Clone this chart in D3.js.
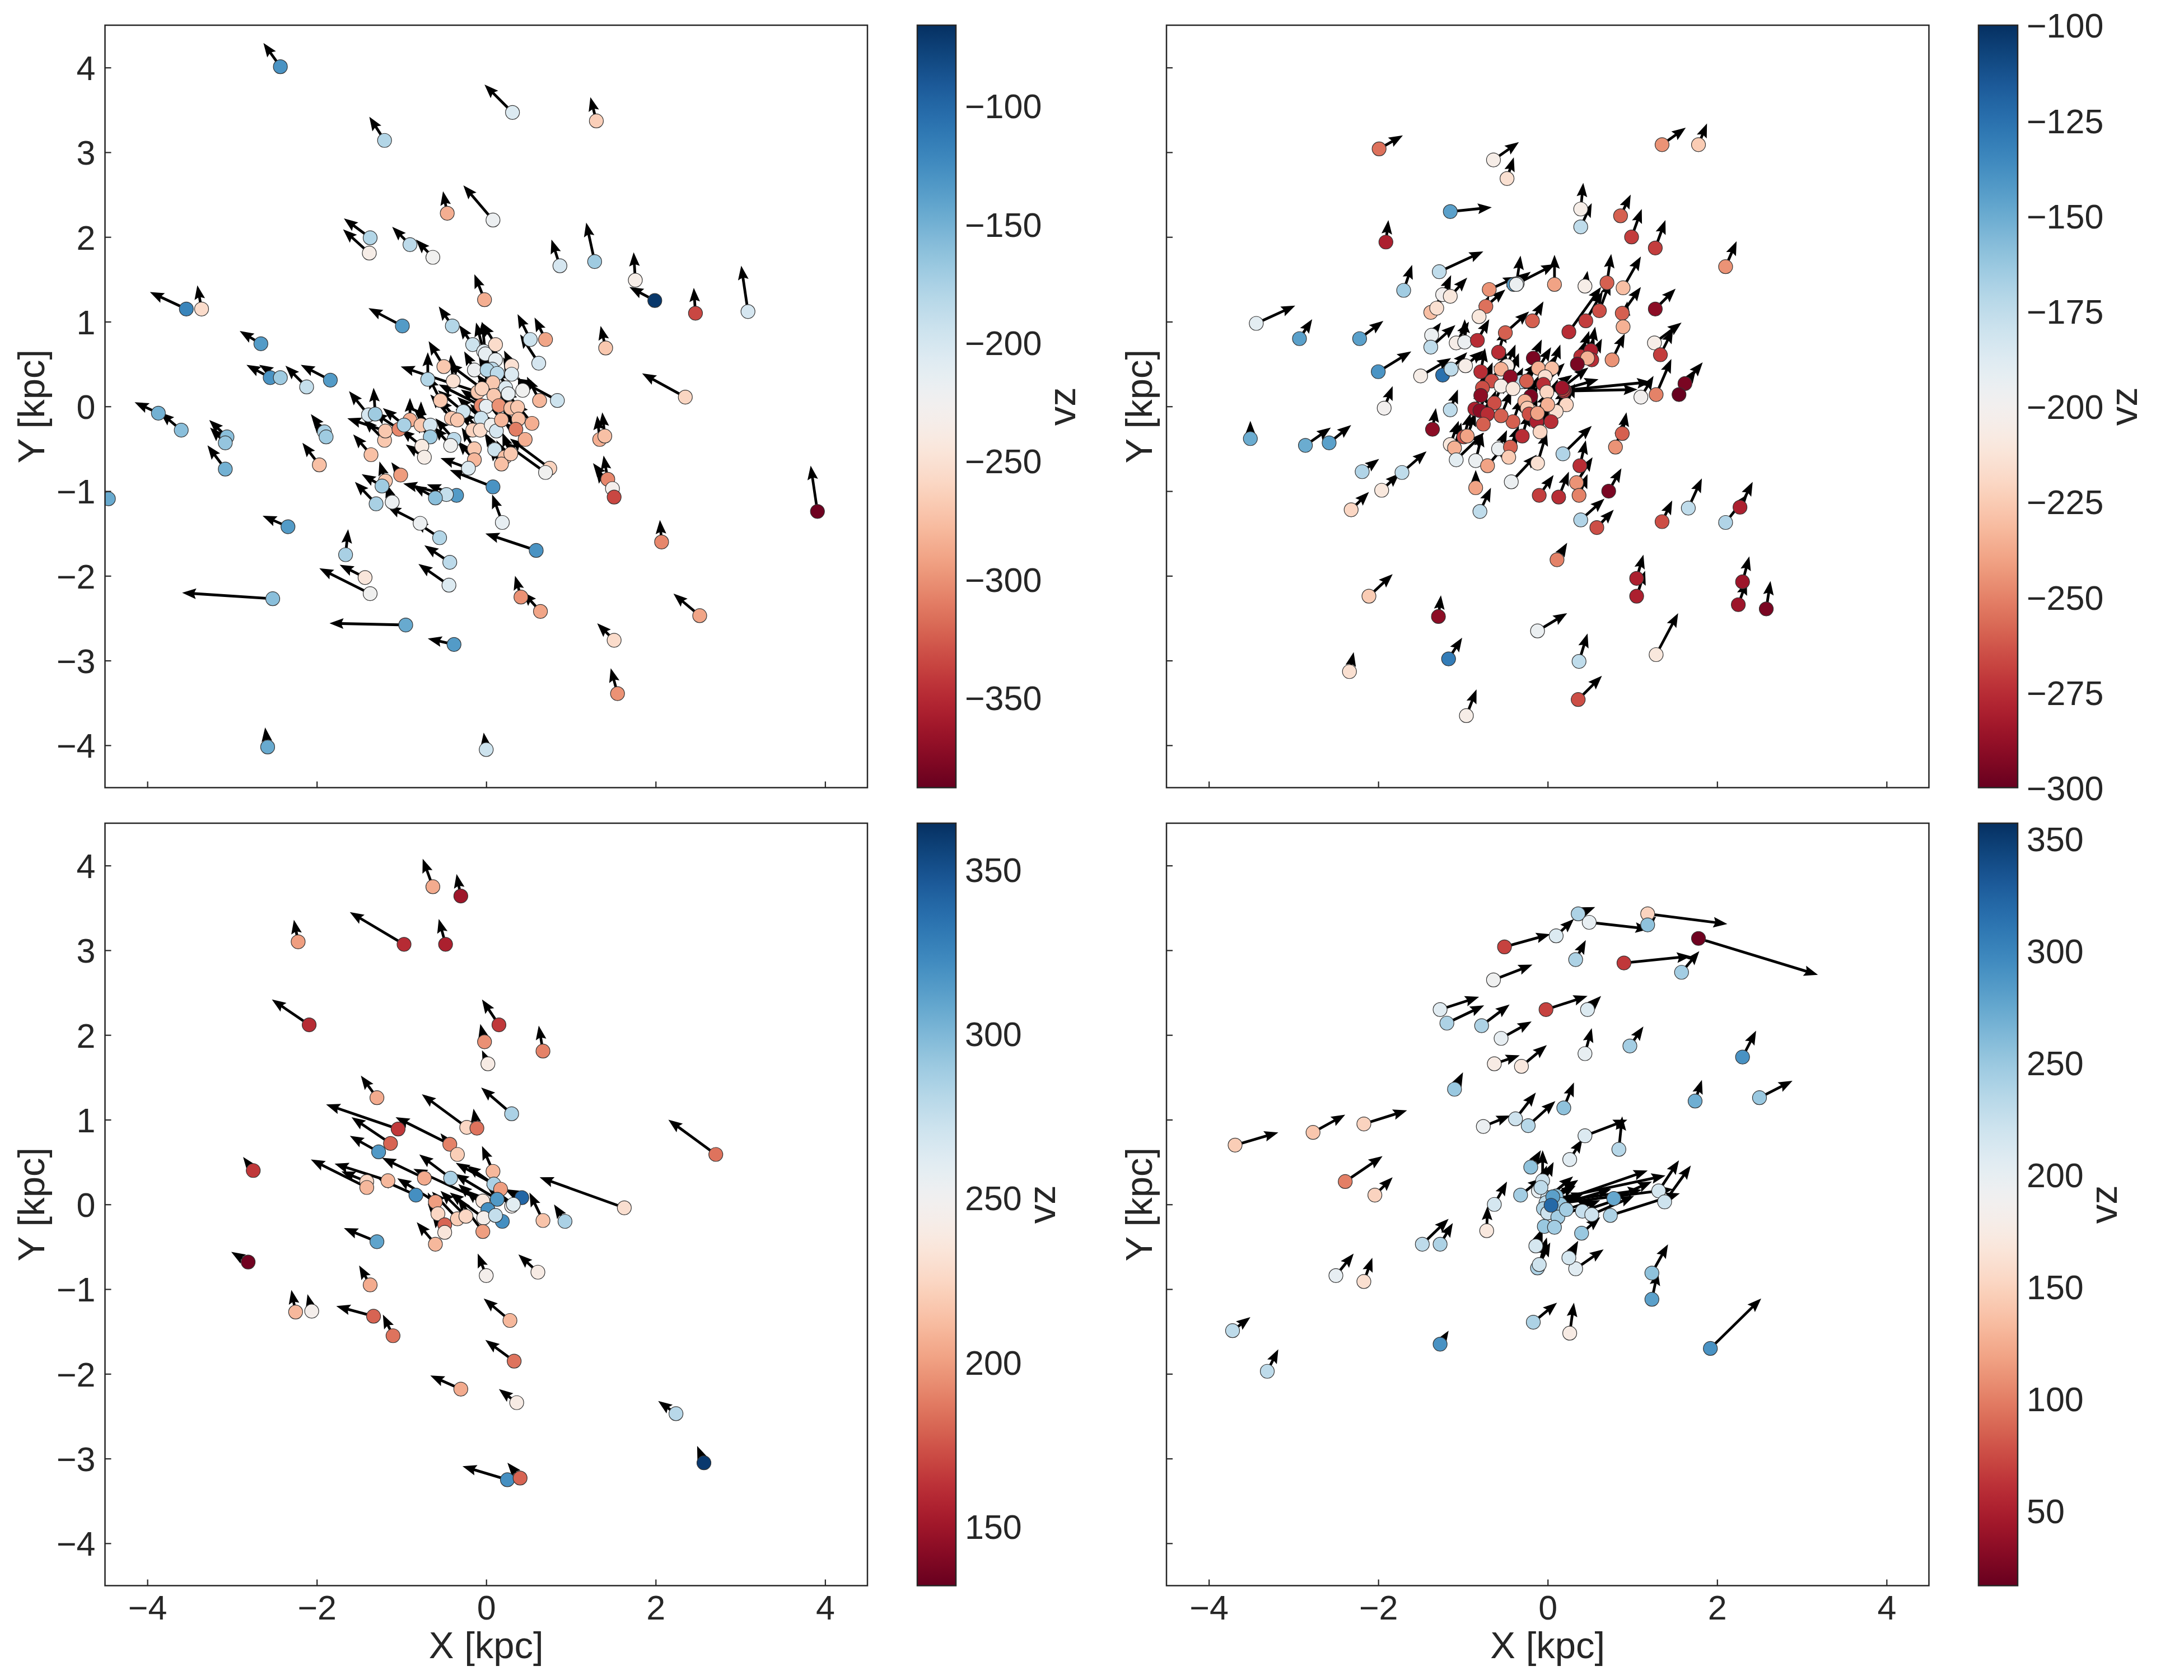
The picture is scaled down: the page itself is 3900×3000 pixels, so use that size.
<!DOCTYPE html>
<html><head><meta charset="utf-8">
<script src="https://cdn.jsdelivr.net/npm/d3@7"></script>
<style>body{margin:0;background:#fff} text{font-family:"Liberation Sans",Arial,sans-serif;fill:#262626}</style>
</head><body><script>
// each row: [x kpc, y kpc, arrow dx kpc, arrow dy kpc, vz]
const tlData = [
[-2.43,4.01,-0.20,0.28,-130],[0.31,3.47,-0.33,0.33,-205],[1.30,3.37,-0.07,0.28,-265],[-1.20,3.14,-0.18,0.28,-180],
[-1.37,1.99,-0.31,0.23,-180],[-1.38,1.81,-0.31,0.28,-235],[-0.90,1.91,-0.21,0.21,-185],[-0.63,1.76,-0.20,0.21,-225],
[-0.46,2.28,-0.05,0.26,-285],[0.08,2.20,-0.35,0.41,-220],[0.87,1.66,-0.10,0.31,-200],[1.28,1.71,-0.10,0.46,-170],
[1.76,1.49,-0.02,0.33,-235],[1.99,1.25,-0.30,0.16,-70],[3.09,1.12,-0.08,0.54,-200],[2.47,1.10,-0.02,0.30,-335],
[-3.54,1.15,-0.43,0.20,-120],[-3.36,1.15,-0.05,0.28,-255],[-2.66,0.74,-0.25,0.15,-135],[-2.55,0.34,-0.28,0.15,-130],
[-2.43,0.34,-0.25,0.15,-170],[-1.84,0.31,-0.35,0.18,-135],[-2.12,0.23,-0.25,0.25,-190],[-3.87,-0.08,-0.28,0.13,-150],
[-3.60,-0.28,-0.25,0.21,-160],[-3.06,-0.36,-0.21,0.20,-160],[-3.08,-0.43,-0.18,0.18,-165],[-3.08,-0.74,-0.21,0.28,-150],
[-4.46,-1.09,-0.25,0.20,-145],[-1.97,-0.69,-0.20,0.26,-275],[-1.91,-0.30,-0.16,0.21,-175],[-1.89,-0.36,-0.16,0.21,-170],
[2.35,0.11,-0.51,0.28,-260],[3.91,-1.24,-0.08,0.54,-385],[2.07,-1.60,-0.02,0.26,-305],[-2.34,-1.42,-0.30,0.13,-135],
[-1.66,-1.75,0.03,0.30,-175],[-1.43,-2.02,-0.30,0.15,-245],[-1.37,-2.21,-0.60,0.30,-225],[-2.52,-2.27,-1.07,0.07,-160],
[0.59,-1.70,-0.60,0.20,-130],[-0.43,-1.84,-0.30,0.20,-185],[-0.55,-1.55,-0.30,0.20,-180],[-0.44,-2.11,-0.36,0.25,-205],
[0.41,-2.25,-0.07,0.25,-300],[0.64,-2.42,-0.21,0.23,-290],[-0.95,-2.58,-0.90,0.02,-145],[-0.38,-2.81,-0.31,0.07,-135],
[1.51,-2.76,-0.20,0.20,-255],[2.52,-2.47,-0.31,0.26,-290],[1.55,-3.39,-0.08,0.30,-300],[-2.58,-4.02,-0.03,0.23,-145],
[0.00,-4.05,-0.03,0.20,-195],
[-0.99,0.95,-0.40,0.21,-135],[-0.02,1.26,-0.12,0.30,-285],[-0.40,0.95,-0.16,0.23,-180],[-0.16,0.73,-0.16,0.23,-195],
[-0.03,0.65,-0.09,0.34,-210],[-0.01,0.62,-0.04,0.38,-215],[0.11,0.73,-0.16,0.26,-255],[0.11,0.55,-0.08,0.20,-215],
[0.07,0.44,-0.10,0.25,-185],[0.30,0.48,-0.09,0.18,-250],[0.30,0.38,-0.10,0.20,-205],[0.52,0.79,-0.15,0.30,-195],
[0.62,0.51,-0.22,0.34,-200],[0.70,0.79,-0.13,0.26,-290],[1.41,0.69,-0.06,0.26,-270],[-0.50,0.47,-0.18,0.30,-270],
[-0.39,0.30,-0.03,0.31,-250],[-0.69,0.32,0.00,0.32,-180],[-0.14,0.43,-0.12,0.22,-220],[0.01,0.43,-0.10,0.20,-180],
[0.13,0.39,-0.10,0.22,-185],[0.08,0.28,-0.12,0.20,-270],[0.23,0.22,-0.10,0.24,-205],[0.26,0.15,-0.08,0.20,-215],
[0.43,0.19,-0.05,0.16,-225],[-0.10,0.17,-0.91,0.30,-270],[-0.05,0.21,-0.40,0.30,-262],[0.09,0.13,-0.20,0.25,-270],
[-0.06,0.01,-0.50,0.25,-305],[0.00,0.00,-0.30,0.20,-215],[0.15,0.01,-0.25,0.30,-300],[0.29,-0.02,-0.20,0.25,-275],
[0.37,-0.01,-0.15,0.22,-270],[0.63,0.07,-0.15,0.28,-280],[0.84,0.07,-0.48,0.26,-195],[-0.54,0.07,-0.15,0.30,-270],
[-0.27,-0.06,-0.30,0.25,-195],[-0.41,-0.14,-0.25,0.28,-270],[-0.34,-0.16,-0.22,0.25,-270],[-0.06,-0.14,-0.28,0.25,-195],
[-0.16,-0.28,-0.20,0.25,-262],[-0.07,-0.28,-0.22,0.22,-255],[0.06,-0.22,-0.25,0.25,-225],[0.12,-0.29,-0.20,0.22,-200],
[0.18,-0.16,-0.20,0.25,-280],[0.38,-0.15,-0.18,0.25,-275],[0.35,-0.27,-0.15,0.22,-310],[0.54,-0.20,-0.20,0.25,-285],
[0.46,-0.39,-0.25,0.20,-285],[-0.38,-0.39,-0.22,0.25,-185],[-0.42,-0.46,-0.20,0.22,-225],[-0.14,-0.50,-0.15,0.25,-270],
[-0.14,-0.63,-0.20,0.22,-280],[-0.21,-0.73,-0.33,0.12,-205],[0.10,-0.51,-0.12,0.20,-195],[0.22,-0.60,-0.10,0.20,-275],
[0.18,-0.68,-0.15,0.20,-275],[0.29,-0.56,-0.10,0.25,-270],[0.75,-0.73,-0.47,0.35,-262],[0.70,-0.78,-0.50,0.36,-225],
[0.08,-0.95,-0.51,0.20,-130],[0.19,-1.37,-0.12,0.33,-215],[-0.35,-1.05,-0.35,0.13,-135],[-0.47,-1.04,-0.51,0.13,-190],
[-0.60,-1.08,-0.27,0.15,-160],[-1.01,-0.81,-0.11,0.15,-295],[-1.19,-0.88,-0.07,0.23,-270],[-1.23,-0.94,-0.24,0.14,-170],
[-1.30,-1.15,-0.25,0.26,-175],[-1.11,-1.13,-0.07,0.22,-220],[-0.78,-1.38,-0.39,0.20,-220],[-1.36,-0.57,-0.21,0.24,-275],
[-1.20,-0.40,-0.25,0.25,-270],[-1.19,-0.29,-0.45,0.15,-270],[-1.39,-0.10,-0.23,0.28,-200],[-1.31,-0.09,-0.02,0.31,-170],
[-1.03,-0.27,-0.30,0.20,-305],[-0.90,-0.16,0.00,0.26,-285],[-0.97,-0.22,-0.25,0.20,-175],[-0.77,-0.22,0.00,0.28,-270],
[-0.66,-0.22,-0.20,0.20,-200],[-0.66,-0.36,-0.20,0.20,-170],[-0.76,-0.47,-0.25,0.20,-240],[-0.73,-0.60,-0.22,0.15,-235],
[1.34,-0.39,-0.03,0.28,-285],[1.40,-0.35,-0.03,0.28,-275],[1.435,-0.86,-0.05,0.28,-305],[1.49,-0.97,-0.23,0.30,-230],
[1.51,-1.07,-0.22,0.33,-335]
];
const trData = [
[-1.99,3.04,0.28,0.16,-255],[-0.64,2.91,0.30,0.21,-205],[-0.48,2.69,0.08,0.25,-215],[1.35,3.09,0.28,0.20,-245],
[1.78,3.09,0.10,0.25,-225],[-1.15,2.30,0.49,0.05,-145],[0.39,2.33,0.03,0.31,-205],[0.39,2.12,0.13,0.28,-175],
[0.86,2.25,0.12,0.25,-260],[-1.91,1.94,0.03,0.26,-280],[0.99,2.00,0.12,0.33,-270],[1.27,1.87,0.12,0.33,-270],
[2.10,1.65,0.13,0.30,-245],[-3.44,0.98,0.46,0.21,-190],[-2.93,0.80,0.15,0.23,-145],[-2.22,0.80,0.28,0.21,-145],
[-2.00,0.41,0.39,0.24,-140],[-1.93,-0.02,0.10,0.26,-200],[-3.51,-0.38,0.00,0.21,-150],[-2.86,-0.46,0.30,0.21,-150],
[-2.58,-0.43,0.26,0.21,-145],[-2.19,-0.77,0.20,0.15,-170],[-1.96,-0.99,0.21,0.20,-210],[-2.32,-1.22,0.21,0.21,-220],
[2.10,-1.37,0.26,0.33,-170],[2.27,-1.19,0.15,0.30,-280],[1.05,-2.03,0.08,0.28,-280],[1.05,-2.24,0.10,0.30,-280],
[2.30,-2.07,0.08,0.30,-285],[2.25,-2.34,0.10,0.28,-285],[2.58,-2.39,0.05,0.33,-295],[1.28,-2.93,0.26,0.49,-210],
[-1.29,-2.48,0.03,0.25,-290],[-0.12,-2.65,0.35,0.21,-195],[-2.11,-2.24,0.28,0.26,-225],[-2.34,-3.13,0.05,0.23,-215],
[-1.17,-2.98,0.16,0.25,-130],[0.37,-3.01,0.10,0.33,-175],[0.36,-3.46,0.28,0.28,-265],[-0.96,-3.65,0.12,0.31,-205],
[0.11,-1.81,0.12,0.20,-250],
[-1.28,1.59,0.52,0.24,-175],[-1.70,1.37,0.10,0.30,-165],[-1.24,1.32,0.10,0.23,-200],[-1.15,1.30,0.20,0.22,-210],
[-1.38,1.11,0.20,0.30,-230],[-1.31,1.16,0.15,0.28,-215],[-0.69,1.38,0.33,0.15,-245],[-0.40,1.44,0.20,0.15,-145],
[-0.36,1.45,0.45,0.23,-190],[-0.37,1.44,0.05,0.34,-195],[0.08,1.44,0.00,0.35,-240],[0.44,1.42,0.03,0.18,-205],
[0.70,1.46,0.05,0.34,-260],[0.89,1.40,0.21,0.37,-230],[1.27,1.15,0.24,0.24,-290],[-0.73,1.18,0.23,0.20,-255],
[-0.81,1.06,0.12,0.25,-210],[-0.18,1.01,0.13,0.23,-260],[-0.50,0.87,0.28,0.25,-260],[0.25,0.88,0.38,0.53,-275],
[0.45,1.01,0.20,0.35,-270],[0.61,1.13,0.13,0.35,-265],[0.88,1.10,0.22,0.31,-260],[0.89,0.94,0.05,0.30,-235],
[0.76,0.55,0.15,0.31,-245],[1.26,0.75,0.32,0.24,-205],[1.33,0.61,0.15,0.30,-270],[-1.37,0.84,0.11,0.15,-195],
[-1.38,0.70,0.29,0.26,-175],[-1.08,0.75,0.15,0.25,-205],[-0.98,0.76,0.00,0.27,-195],[-0.83,0.78,0.14,0.25,-275],
[-1.50,0.36,0.36,0.21,-205],[-1.24,0.37,0.12,0.15,-125],[-1.14,0.44,0.19,0.20,-175],[-0.97,0.48,0.21,0.18,-205],
[-0.58,0.64,0.08,0.28,-275],[-0.48,0.48,0.10,0.25,-205],[-0.55,0.44,0.05,0.25,-235],[-0.79,0.41,0.05,0.28,-275],
[-0.17,0.57,0.10,0.22,-295],[-0.11,0.45,0.15,0.25,-235],[0.05,0.45,0.10,0.28,-230],[-0.03,0.35,0.12,0.25,-215],
[0.39,0.59,0.10,0.30,-275],[0.51,0.66,0.05,0.28,-280],[0.52,0.55,0.12,0.25,-275],[0.47,0.57,0.08,0.25,-235],
[0.35,0.50,0.10,0.28,-295],[-0.32,0.29,0.20,0.22,-175],[-0.25,0.30,0.15,0.25,-260],[-0.44,0.35,0.10,0.28,-290],
[-0.66,0.30,0.15,0.28,-265],[-0.77,0.22,0.12,0.30,-265],[-0.55,0.24,0.10,0.26,-205],[-0.41,0.21,0.12,0.25,-210],
[-0.05,0.26,0.25,0.25,-275],[-0.01,0.17,0.30,0.20,-220],[0.20,0.19,1.02,0.10,-280],[0.19,0.18,0.87,0.02,-275],
[0.18,0.20,0.42,0.12,-270],[0.17,0.22,0.31,0.24,-285],[0.22,0.02,0.10,0.25,-220],[0.10,-0.06,0.10,0.28,-215],
[0.00,0.02,0.12,0.30,-235],[-0.20,0.12,0.10,0.25,-295],[-0.27,0.06,0.10,0.28,-235],[-0.24,-0.02,0.12,0.26,-225],
[-0.22,-0.09,0.10,0.25,-265],[-0.13,-0.18,0.12,0.28,-280],[0.04,-0.18,0.10,0.25,-275],[-0.12,-0.08,0.12,0.25,-240],
[-0.41,-0.18,0.10,0.28,-260],[-0.30,-0.35,0.08,0.28,-275],[-0.09,-0.30,0.10,0.30,-220],[-0.79,0.13,0.08,0.30,-290],
[-0.63,0.04,0.12,0.28,-265],[-0.86,-0.03,0.10,0.25,-280],[-0.80,-0.05,0.08,0.25,-290],[-0.71,-0.09,0.10,0.28,-275],
[-0.55,-0.11,0.12,0.30,-260],[-0.76,-0.21,0.08,0.30,-260],[-0.99,-0.36,0.08,0.28,-265],[-0.95,-0.35,0.10,0.28,-240],
[-1.15,-0.45,0.10,0.28,-210],[-1.10,-0.49,0.08,0.30,-235],[-1.15,-0.04,0.09,0.24,-175],[-1.36,-0.27,0.04,0.25,-290],
[-1.08,-0.63,0.33,0.32,-190],[-0.85,-0.64,0.08,0.33,-195],[-0.71,-0.70,0.22,0.26,-240],[-0.58,-0.50,0.10,0.22,-195],
[-0.44,-0.48,0.10,0.25,-260],[-0.46,-0.60,0.10,0.25,-225],[-0.85,-0.96,0.00,0.21,-240],[-0.43,-0.89,0.30,0.32,-195],
[-0.12,-0.67,0.11,0.37,-215],[0.18,-0.56,0.34,0.33,-170],[0.38,-0.70,0.07,0.30,-275],[0.34,-0.90,0.19,0.30,-245],
[0.37,-1.05,0.10,0.25,-250],[-0.10,-1.05,0.17,0.24,-270],[0.13,-1.07,0.12,0.30,-275],[0.88,-0.32,0.05,0.25,-260],
[0.80,-0.48,0.10,0.30,-245],[0.72,-1.00,0.15,0.27,-295],[0.39,-1.34,0.28,0.25,-170],[0.58,-1.43,0.20,0.21,-265],
[1.35,-1.36,0.12,0.25,-265],[1.66,-1.20,0.16,0.35,-175],[-0.80,-1.24,0.13,0.28,-175],[-1.72,-0.78,0.29,0.25,-175],
[1.10,0.11,0.15,0.25,-200],[1.28,0.14,0.18,0.42,-250],[1.62,0.27,0.21,0.25,-295],[1.55,0.14,0.20,0.30,-300]
];
const blData = [
[-0.63,3.75,-0.12,0.33,205],[-0.30,3.64,-0.05,0.26,150],[-2.22,3.10,-0.05,0.26,200],[-0.97,3.07,-0.64,0.38,160],
[-0.48,3.07,-0.08,0.30,155],[-2.09,2.12,-0.44,0.30,160],[0.15,2.12,-0.20,0.30,165],[-0.02,1.92,-0.05,0.21,195],
[-2.75,0.40,-0.12,0.16,165],[2.71,0.59,-0.56,0.41,185],[1.63,-0.04,-1.00,0.36,230],[-2.81,-0.68,-0.20,0.12,135],
[-2.25,-1.27,-0.05,0.26,210],[-2.06,-1.26,-0.05,0.20,245],[-1.37,-0.95,-0.13,0.23,205],[-1.33,-1.32,-0.44,0.12,180],
[-1.10,-1.55,-0.12,0.25,185],[0.00,-0.84,-0.10,0.26,245],[0.61,-0.80,-0.23,0.21,240],[0.28,-1.37,-0.31,0.26,210],
[0.33,-1.85,-0.34,0.25,185],[-0.30,-2.18,-0.36,0.16,205],[0.36,-2.34,-0.21,0.16,240],[2.24,-2.47,-0.21,0.15,280],
[2.57,-3.05,-0.08,0.20,360],[0.25,-3.25,-0.53,0.16,320],[0.40,-3.23,-0.15,0.18,180],
[0.02,1.66,-0.07,0.16,240],[0.67,1.81,-0.05,0.30,190],[-1.29,1.26,-0.19,0.26,205],[0.30,1.07,-0.36,0.31,285],
[-0.23,0.91,-0.53,0.39,225],[-0.11,0.90,-0.04,0.23,185],[-1.04,0.89,-0.85,0.29,165],[-1.13,0.72,-0.46,0.31,180],
[-1.27,0.62,-0.34,0.19,315],[-0.43,0.71,-0.64,0.32,190],[-0.34,0.59,-0.20,0.25,220],[0.08,0.39,-0.13,0.30,210],
[-0.42,0.31,-0.37,0.28,285],[-0.73,0.31,-0.50,0.24,205],[-1.16,0.28,-0.63,0.20,210],[-1.41,0.27,-0.30,0.12,225],
[-1.41,0.20,-0.66,0.33,210],[-0.83,0.11,-0.45,0.20,320],[0.09,0.24,-0.45,0.25,285],[0.17,0.18,-0.40,0.28,200],
[0.13,0.06,-0.50,0.30,315],[0.42,0.08,-0.20,0.10,340],[-0.04,0.04,-0.82,0.38,235],[0.02,-0.06,-0.35,0.30,320],
[0.30,-0.02,-0.30,0.25,245],[0.32,0.00,-0.30,0.22,260],[0.19,-0.20,-0.30,0.28,320],[-0.03,-0.16,-0.40,0.30,245],
[0.11,-0.13,-0.35,0.30,275],[-0.60,0.03,-0.45,0.28,200],[-0.57,-0.11,-0.12,0.25,225],[-0.49,-0.24,-0.20,0.25,180],
[-0.49,-0.33,-0.15,0.22,235],[-0.34,-0.17,-0.30,0.32,220],[-0.24,-0.14,-0.30,0.30,225],[-0.04,-0.32,-0.30,0.40,200],
[0.67,-0.19,-0.16,0.33,215],[0.93,-0.20,-0.13,0.20,285],[-0.60,-0.47,-0.22,0.26,210],[-1.29,-0.44,-0.39,0.16,310]
];
const brData = [
[0.36,3.43,0.20,0.08,240],[0.49,3.33,0.71,-0.08,200],[1.18,3.43,0.94,-0.12,150],[1.18,3.30,0.10,0.10,255],
[1.78,3.14,1.41,-0.43,20],[0.10,3.17,0.21,0.20,210],[-0.51,3.04,0.54,0.15,70],[0.90,2.85,0.79,0.08,65],
[0.33,2.89,0.12,0.23,240],[-0.64,2.65,0.46,0.18,190],[1.58,2.74,0.21,0.25,245],[-0.02,2.30,0.49,0.16,70],
[-1.27,2.30,0.46,0.15,205],[-1.19,2.14,0.44,0.21,240],[-0.78,2.11,0.33,0.25,240],[0.47,2.30,0.16,0.16,210],
[-0.55,1.96,0.36,0.20,200],[0.44,1.78,0.08,0.30,200],[0.97,1.87,0.16,0.23,245],[-0.31,1.63,0.30,0.25,170],
[-0.63,1.66,0.30,0.10,175],[2.30,1.74,0.16,0.31,290],[-1.10,1.36,0.10,0.20,250],[2.50,1.26,0.39,0.20,250],
[-3.69,0.70,0.51,0.15,145],[-2.77,0.85,0.38,0.21,140],[-2.17,0.95,0.51,0.16,150],[-2.39,0.27,0.44,0.30,100],
[-2.04,0.11,0.21,0.21,150],[-3.72,-1.49,0.21,0.16,230],[-3.31,-1.97,0.13,0.26,230],[-2.50,-0.84,0.21,0.26,200],
[-2.17,-0.91,0.10,0.28,160],[-1.48,-0.47,0.31,0.30,230],[-1.27,-0.47,0.15,0.25,240],[-1.27,-1.65,0.10,0.16,290],
[-0.17,-1.39,0.28,0.23,240],[0.26,-1.52,0.05,0.36,175],[0.33,-0.76,0.33,0.23,205],[-0.12,-0.75,0.15,0.30,240],
[1.23,-0.81,0.19,0.34,255],[1.23,-1.12,0.07,0.33,280],[1.92,-1.70,0.60,0.59,290],
[0.19,1.14,0.12,0.30,255],[-0.76,0.92,0.32,0.13,195],[-0.38,1.01,0.24,0.31,220],[-0.23,0.93,0.32,0.29,235],
[1.74,1.22,0.08,0.25,270],[0.44,0.81,0.50,0.19,210],[0.84,0.65,0.04,0.39,235],[0.26,0.53,0.15,0.24,205],
[-0.20,0.44,0.12,0.20,255],[-0.32,0.11,0.25,0.20,245],[-0.06,0.28,0.00,0.36,220],[-0.11,0.16,0.10,0.30,200],
[0.02,0.05,1.37,0.29,230],[0.05,0.03,1.06,0.14,250],[0.08,0.02,1.10,0.38,240],[0.03,0.00,1.45,0.18,260],
[0.00,0.08,0.30,0.25,215],[-0.02,0.02,0.35,0.20,230],[0.10,0.10,0.25,0.18,255],[-0.05,-0.05,0.40,0.15,240],
[0.00,-0.10,0.20,0.15,220],[0.15,0.00,0.60,0.18,250],[-0.08,0.20,0.15,0.30,230],[0.12,-0.15,0.50,0.20,245],
[0.06,0.09,0.30,0.20,280],[0.04,-0.01,0.40,0.15,320],[0.22,-0.06,0.30,0.10,245],[0.41,-0.08,0.45,0.15,225],
[0.52,-0.12,0.50,0.22,220],[0.78,0.07,0.45,0.20,275],[0.74,-0.13,0.82,0.26,240],[1.31,0.16,0.24,0.36,215],
[1.38,0.03,0.31,0.43,220],[-0.63,0.00,0.15,0.27,215],[-0.72,-0.31,0.01,0.29,170],[-0.04,-0.26,0.10,0.25,250],
[0.08,-0.27,0.12,0.22,245],[0.40,-0.34,0.22,0.19,250],[-0.14,-0.49,0.08,0.21,215],[-0.10,-0.71,0.09,0.32,220],
[0.25,-0.63,0.11,0.20,215]
];
const axisTicks = [-4, -2, 0, 2, 4];
const yAxisTicks = [-4, -3, -2, -1, 0, 1, 2, 3, 4];
const tlCbTicks = [-350, -300, -250, -200, -150, -100];
const trCbTicks = [-300, -275, -250, -225, -200, -175, -150, -125, -100];
const blCbTicks = [150, 200, 250, 300, 350];
const brCbTicks = [50, 100, 150, 200, 250, 300, 350];
const tlCbRange = [-388, -66], trCbRange = [-300, -100], blCbRange = [132, 364], brCbRange = [16.5, 357];
const xLabel = "X [kpc]", yLabel = "Y [kpc]", cLabel = "vz";

const S = 1361.5;
const panels = [
  {data: tlData, x0: 187.5, y0: 45, cb: tlCbRange, cbt: tlCbTicks, cbx: 1638, cbw: 69, xl: false, yl: true, ylx: 79, vzx: 1920},
  {data: trData, x0: 2083, y0: 45, cb: trCbRange, cbt: trCbTicks, cbx: 3533, cbw: 70, xl: false, yl: false, ylx: 2057, vzx: 3816},
  {data: blData, x0: 187.5, y0: 1470, cb: blCbRange, cbt: blCbTicks, cbx: 1638, cbw: 69, xl: true, yl: true, ylx: 79, vzx: 1884},
  {data: brData, x0: 2083, y0: 1470, cb: brCbRange, cbt: brCbTicks, cbx: 3533, cbw: 70, xl: true, yl: false, ylx: 2057, vzx: 3780}
];

const svg = d3.select("body").append("svg").attr("width", 3900).attr("height", 3000);
svg.append("rect").attr("width", 3900).attr("height", 3000).attr("fill", "#fff");
const defs = svg.append("defs");

function arrowPath(x0, y0, x1, y1) {
  const dx = x1 - x0, dy = y1 - y0, L = Math.hypot(dx, dy);
  if (L < 0.5) return "";
  let hl = 25, ha = 22, hh = 9.5, sw = 2.4;
  if (L < hl) { const k = L / hl; hl *= k; ha *= k; hh *= k; }
  const ca = dx / L, sa = dy / L;
  const pts = [[0, -sw], [L - ha, -sw], [L - hl, -hh], [L, 0], [L - hl, hh], [L - ha, sw], [0, sw]];
  return "M" + pts.map(([a, b]) => (x0 + a * ca - b * sa).toFixed(1) + "," + (y0 + a * sa + b * ca).toFixed(1)).join("L") + "Z";
}

panels.forEach((p, i) => {
  const x = d3.scaleLinear().domain([-4.5, 4.5]).range([p.x0, p.x0 + S]);
  const y = d3.scaleLinear().domain([-4.5, 4.5]).range([p.y0 + S, p.y0]);
  const c = d3.scaleLinear().domain(p.cb).range([0, 1]).clamp(true);
  const g = svg.append("g");
  defs.append("clipPath").attr("id", "clip" + i).append("rect")
    .attr("x", p.x0).attr("y", p.y0).attr("width", S).attr("height", S);
  const plot = g.append("g").attr("clip-path", `url(#clip${i})`);
  plot.append("g").selectAll("path").data(p.data).join("path")
    .attr("d", d => arrowPath(x(d[0]), y(d[1]), x(d[0] + d[2]), y(d[1] + d[3])))
    .attr("fill", "#000");
  plot.append("g").selectAll("circle").data(p.data).join("circle")
    .attr("cx", d => x(d[0])).attr("cy", d => y(d[1])).attr("r", 12.5)
    .attr("fill", d => d3.interpolateRdBu(c(d[4])))
    .attr("stroke", "#333").attr("stroke-width", 1.2);

  const xa = g.append("g").attr("transform", `translate(0,${p.y0 + S})`)
    .call(d3.axisBottom(x).tickValues(axisTicks).tickSizeInner(-11).tickSizeOuter(0).tickPadding(17));
  const ya = g.append("g").attr("transform", `translate(${p.x0},0)`)
    .call(d3.axisLeft(y).tickValues(yAxisTicks).tickSizeInner(-11).tickSizeOuter(0).tickPadding(17));
  [xa, ya].forEach(a => {
    a.select(".domain").remove();
    a.selectAll("line").attr("stroke", "#262626").attr("stroke-width", 2.2);
    a.selectAll("text").attr("font-size", 61).attr("fill", "#262626")
      .attr("font-family", '"Liberation Sans", Arial, sans-serif');
  });
  ya.selectAll("text").attr("dy", "0.36em");
  if (!p.xl) xa.selectAll("text").remove();
  if (!p.yl) ya.selectAll("text").remove();
  g.append("rect").attr("x", p.x0).attr("y", p.y0).attr("width", S).attr("height", S)
    .attr("fill", "none").attr("stroke", "#262626").attr("stroke-width", 2.5);

  if (p.xl) g.append("text").attr("x", p.x0 + S / 2).attr("y", p.y0 + S + 129)
    .attr("text-anchor", "middle").attr("font-size", 67).text(xLabel);
  g.append("text").attr("transform", `translate(${p.ylx},${p.y0 + S / 2}) rotate(-90)`)
    .attr("text-anchor", "middle").attr("font-size", 67).text(yLabel);

  const gid = "grad" + i;
  const grad = defs.append("linearGradient").attr("id", gid).attr("x1", 0).attr("y1", 1).attr("x2", 0).attr("y2", 0);
  d3.range(0, 1.0001, 0.02).forEach(t => grad.append("stop").attr("offset", t).attr("stop-color", d3.interpolateRdBu(t)));
  g.append("rect").attr("x", p.cbx).attr("y", p.y0).attr("width", p.cbw).attr("height", S)
    .attr("fill", `url(#${gid})`).attr("stroke", "#262626").attr("stroke-width", 2.5);
  const cy = d3.scaleLinear().domain(p.cb).range([p.y0 + S, p.y0]);
  const ca = g.append("g").attr("transform", `translate(${p.cbx + p.cbw},0)`)
    .call(d3.axisRight(cy).tickValues(p.cbt).tickSize(0).tickPadding(16));
  ca.select(".domain").remove();
  ca.selectAll("text").attr("font-size", 61).attr("fill", "#262626").attr("dy", "0.36em")
    .attr("font-family", '"Liberation Sans", Arial, sans-serif');
  g.append("text").attr("transform", `translate(${p.vzx},${p.y0 + S / 2}) rotate(-90)`)
    .attr("text-anchor", "middle").attr("font-size", 69).text(cLabel);
});
</script></body></html>
